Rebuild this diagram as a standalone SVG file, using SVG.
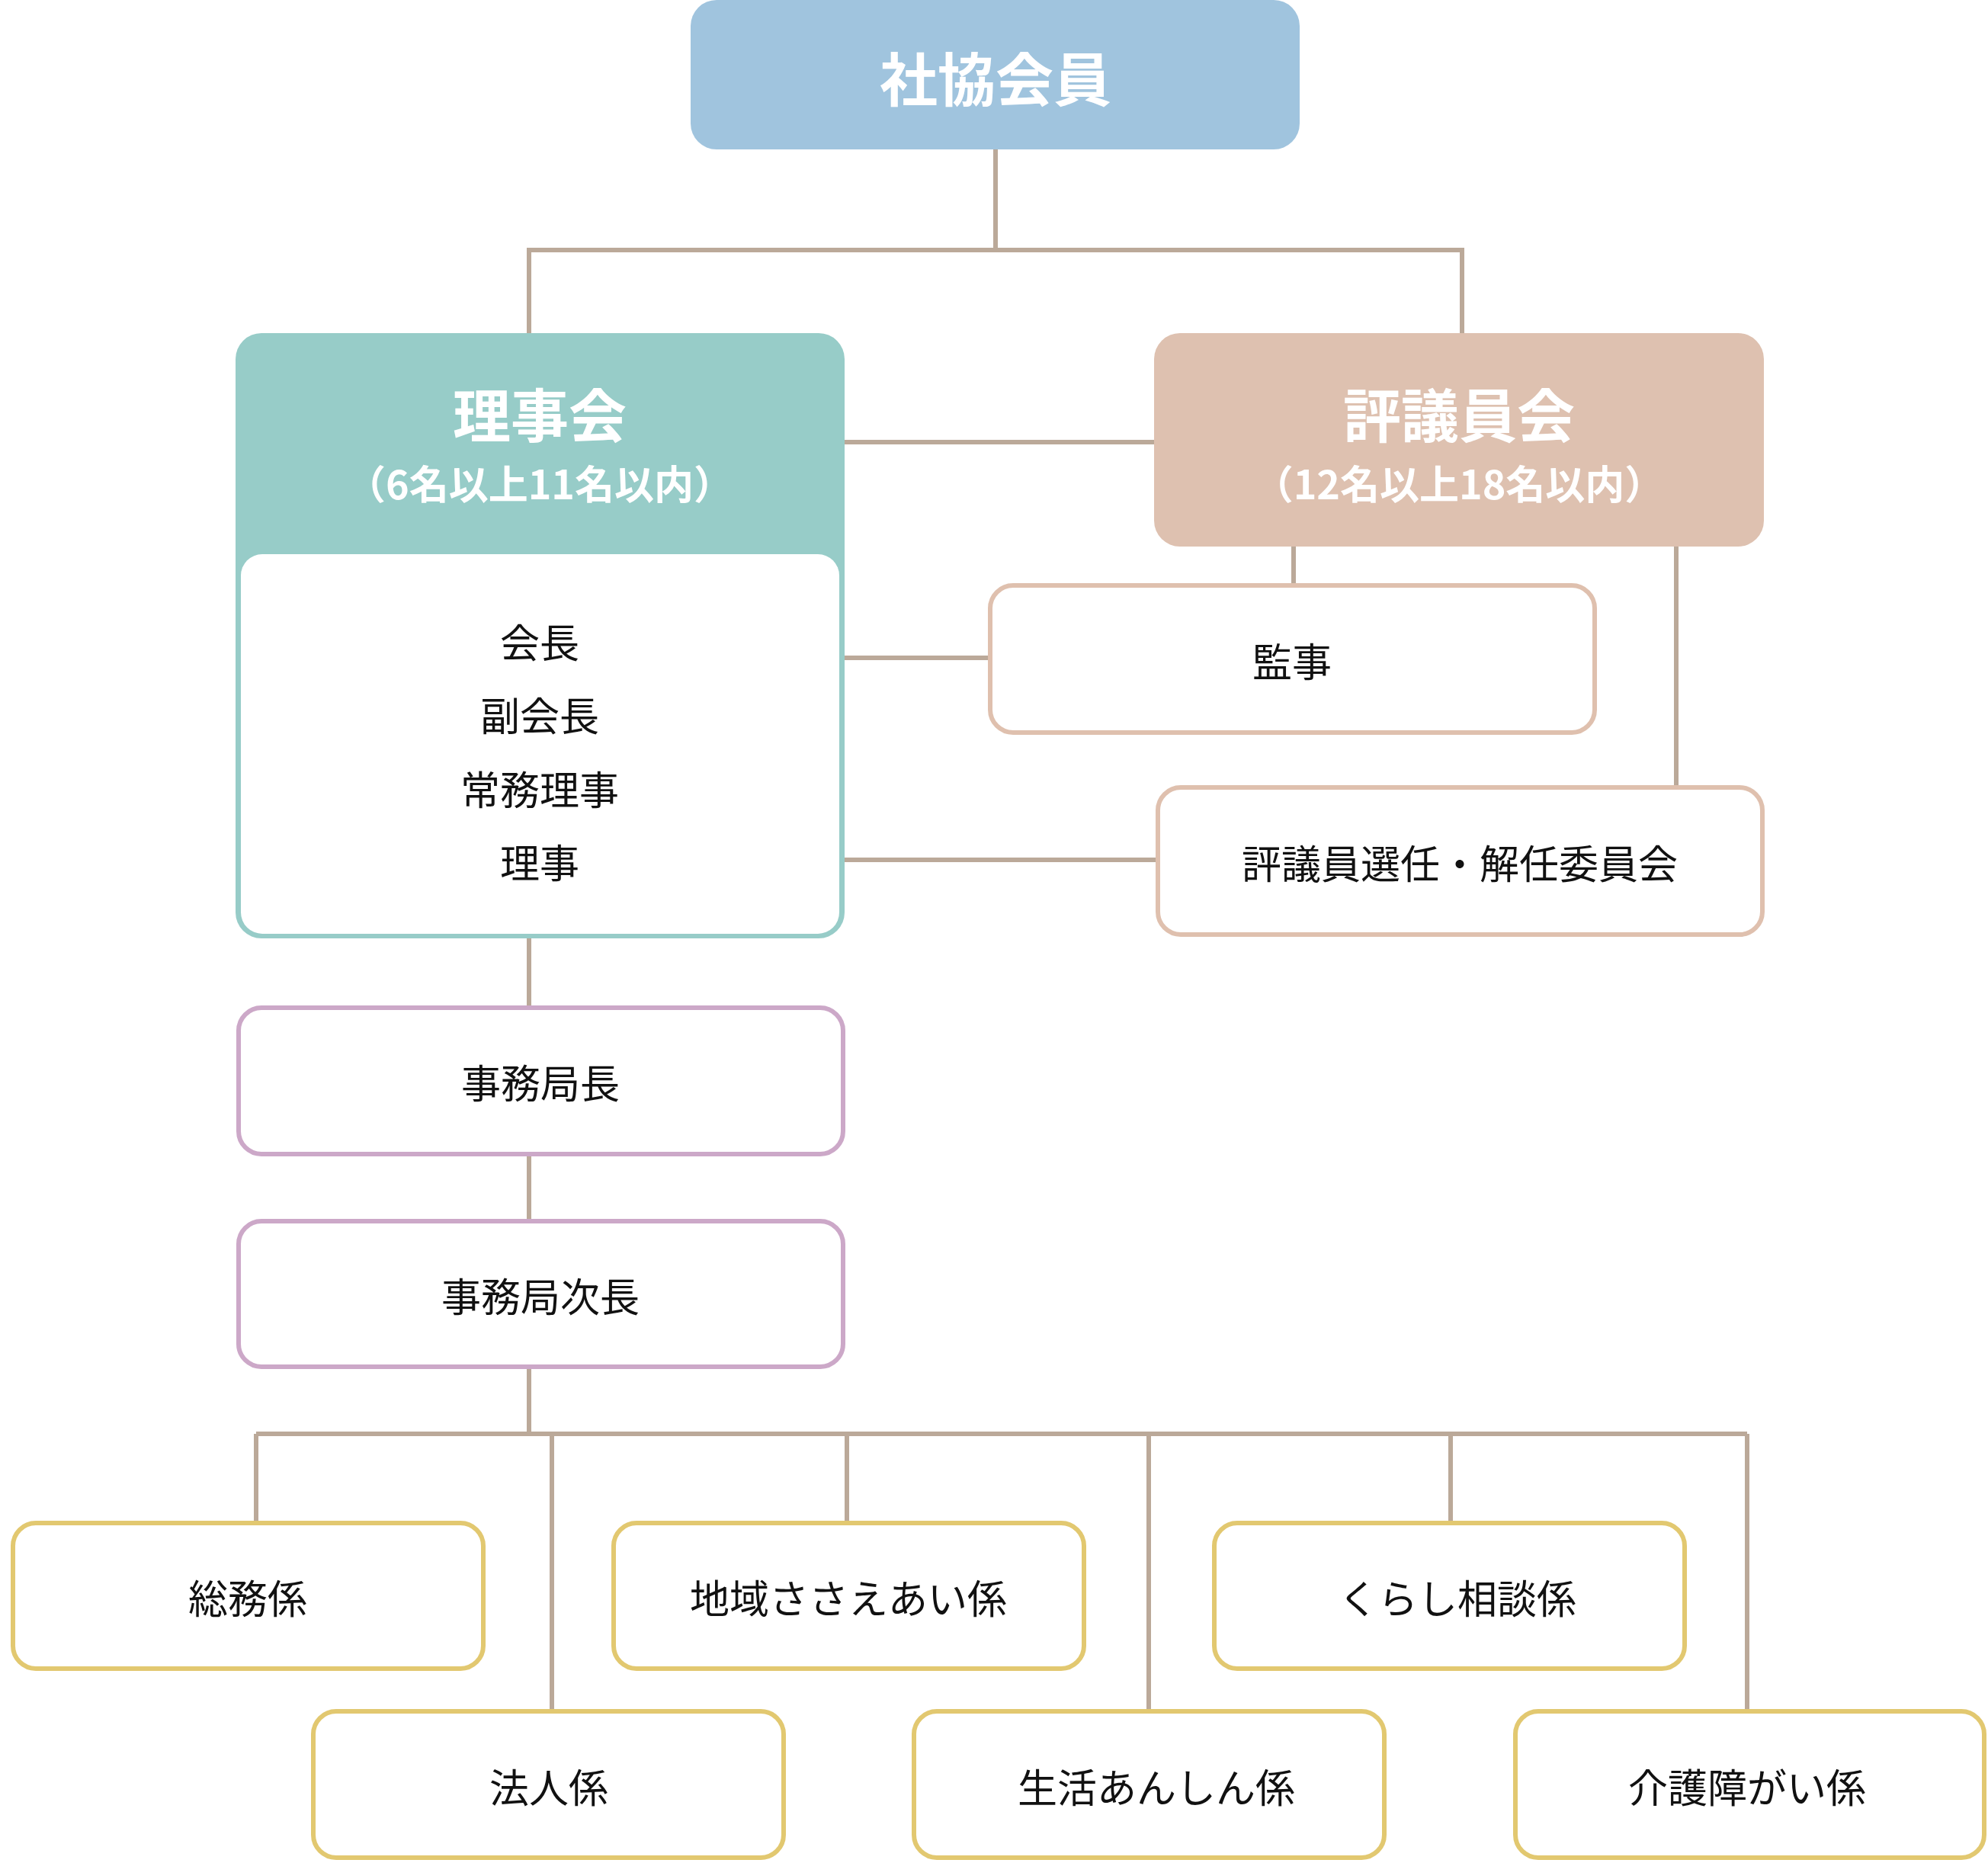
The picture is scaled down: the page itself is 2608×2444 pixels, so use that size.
<svg xmlns="http://www.w3.org/2000/svg" width="2608" height="2444" viewBox="0 0 2608 2444">
<style>
text{font-family:"Noto Sans CJK JP","Noto Sans",sans-serif;text-anchor:middle;dominant-baseline:central}
.t{font-size:52px;fill:#111}
.h{font-size:76px;font-weight:bold;fill:#fff}
.s{font-size:52px;font-weight:bold;fill:#fff}
.c{stroke:#bba999;stroke-width:6;fill:none}
.y{fill:#fff;stroke:#e2c870;stroke-width:6}
.p{fill:#fff;stroke:#cca8c8;stroke-width:6}
.b{fill:#fff;stroke:#dfc0ae;stroke-width:6}
</style>
<g id="connectors" class="c">
<path d="M1306 196V328M694 437V328H1918V437"/>
<path d="M1108 580H1514"/>
<path d="M1697 717V768M1108 863H1299"/>
<path d="M2199 717V1033M1108 1128H1519"/>
<path d="M694 1231V1322M694 1514V1602M694 1793V1881"/>
<path d="M336 1881H2292M336 1881V1998M724 1881V2245M1111 1881V1998M1507 1881V2245M1903 1881V1998M2292 1881V2245"/>
</g>
<g id="n-kaiin"><rect x="906" y="0" width="799" height="196" rx="34" fill="#a0c4de"/><text class="h" x="1306" y="100">社協会員</text></g>
<g id="n-rijikai"><rect x="309" y="437" width="799" height="794" rx="34" fill="#97ccc8"/><rect x="316" y="727" width="785" height="498" rx="28" fill="#fff"/>
<text class="h" x="708" y="541">理事会</text><text class="s" x="708" y="632">（6名以上11名以内）</text>
<text class="t" x="708" y="840">会長</text><text class="t" x="708" y="936">副会長</text><text class="t" x="708" y="1033">常務理事</text><text class="t" x="708" y="1129">理事</text></g>
<g id="n-hyogiinkai"><rect x="1514" y="437" width="800" height="280" rx="34" fill="#dec1b0"/><text class="h" x="1914" y="541">評議員会</text><text class="s" x="1914" y="632">（12名以上18名以内）</text></g>
<g id="n-kanji"><rect class="b" x="1299" y="768" width="793" height="193" rx="30"/><text class="t" x="1695" y="865">監事</text></g>
<g id="n-senin"><rect class="b" x="1519" y="1033" width="793" height="193" rx="30"/><text class="t" x="1915" y="1130">評議員選任・解任委員会</text></g>
<g id="n-kyokucho"><rect class="p" x="313" y="1322" width="793" height="192" rx="30"/><text class="t" x="709" y="1418">事務局長</text></g>
<g id="n-jicho"><rect class="p" x="313" y="1602" width="793" height="191" rx="30"/><text class="t" x="709" y="1698">事務局次長</text></g>
<g id="n-somu"><rect class="y" x="17" y="1998" width="617" height="191" rx="30"/><text class="t" x="325" y="2094">総務係</text></g>
<g id="n-chiiki"><rect class="y" x="805" y="1998" width="617" height="191" rx="30"/><text class="t" x="1113" y="2094">地域ささえあい係</text></g>
<g id="n-kurashi"><rect class="y" x="1593" y="1998" width="617" height="191" rx="30"/><text class="t" x="1912" y="2094">くらし相談係</text></g>
<g id="n-hojin"><rect class="y" x="411" y="2245" width="617" height="192" rx="30"/><text class="t" x="720" y="2342">法人係</text></g>
<g id="n-seikatsu"><rect class="y" x="1199" y="2245" width="617" height="192" rx="30"/><text class="t" x="1517" y="2342">生活あんしん係</text></g>
<g id="n-kaigo"><rect class="y" x="1988" y="2245" width="615" height="192" rx="30"/><text class="t" x="2292" y="2342">介護障がい係</text></g>
</svg>
